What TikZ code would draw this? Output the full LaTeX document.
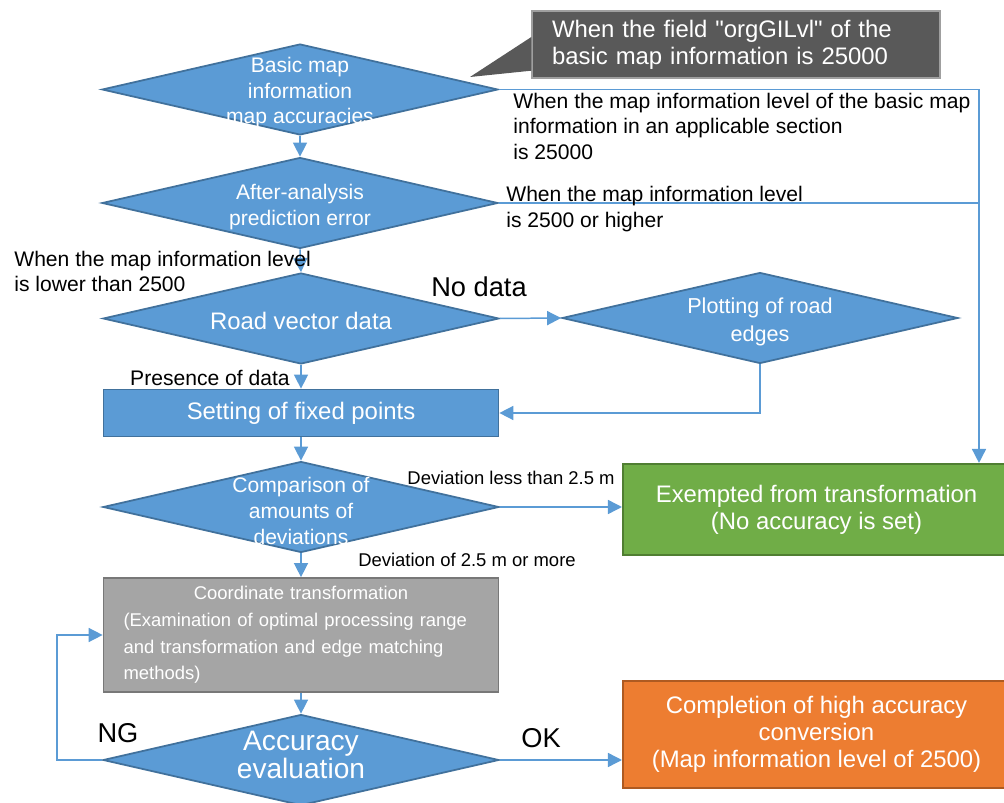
\documentclass[tikz,border=0pt]{standalone}
\usepackage{fontspec}
\setmainfont{Liberation Sans}
\usepackage{xcolor}
\usetikzlibrary{shapes.geometric,arrows.meta}
\definecolor{bluefill}{HTML}{5B9BD5}
\definecolor{blueline}{HTML}{41719C}
\definecolor{greenfill}{HTML}{70AD47}
\definecolor{greenline}{HTML}{507E32}
\definecolor{orangefill}{HTML}{ED7D31}
\definecolor{orangeline}{HTML}{AE5A21}
\definecolor{grayfill}{HTML}{A5A5A5}
\definecolor{grayline}{HTML}{787878}
\definecolor{notefill}{HTML}{595959}

\begin{document}
\begin{tikzpicture}[x=0.02cm, y=-0.02cm,
	decision/.style={diamond, draw=blueline, fill=bluefill, line width=1pt, inner sep=0pt, minimum width=7.92cm, minimum height=1.82cm},
	dtext/.style={text=white, align=center, inner sep=0pt},
	flow/.style={draw=bluefill, line width=0.85pt},
	arr/.style={flow, -{Triangle[length=8pt, width=8pt]}},
	note/.style={text=black, align=left, inner sep=0pt}]
	\useasboundingbox (0,0) rectangle (1004,803);
	\node[decision, label={[dtext, font=\fontsize{12}{14.5}\selectfont, yshift=-0.07cm]center:Basic map\\information\\map accuracies}] (basic) at (300,89.5) {};
	\node[decision, label={[dtext, font=\fontsize{12}{14.5}\selectfont, yshift=-0.08cm]center:After-analysis\\prediction error}] (after) at (300,203) {};
	\node[decision, label={[dtext, font=\fontsize{13.6}{16}\selectfont, yshift=-0.05cm]center:Road vector data}] (road) at (301,318.5) {};
	\node[decision, label={[dtext, font=\fontsize{12.3}{15.5}\selectfont, yshift=-0.08cm]center:Plotting of road\\edges}] (plot) at (760,318) {};
	\node[rectangle, draw=blueline, fill=bluefill, line width=1pt, minimum width=7.9cm, minimum height=0.94cm, text=white, font=\fontsize{13.6}{16}\selectfont] (fix) at (301,413) {Setting of fixed points};
	\node[decision, label={[dtext, font=\fontsize{12}{15}\selectfont, yshift=-0.08cm]center:Comparison of\\amounts of\\deviations}] (comp) at (301,507) {};
	\node[rectangle, draw=greenline, fill=greenfill, line width=1.2pt, minimum width=7.74cm, minimum height=1.82cm, text=white, align=center, font=\fontsize{13.6}{15.4}\selectfont] (exempt) at (816.5,509.5) {Exempted from transformation\\(No accuracy is set)};
	\node[rectangle, draw=grayline, fill=grayfill, line width=1pt, minimum width=7.9cm, minimum height=2.28cm, text=white, text width=7.1cm, align=left, font=\fontsize{10.5}{15.2}\selectfont] (coord) at (301,635) {{\centering Coordinate transformation\par}(Examination of optimal processing range\\and transformation and edge matching\\methods)};
	\node[decision, label={[dtext, font=\fontsize{16}{14.8}\selectfont, yshift=0.1cm]center:Accuracy\\evaluation}] (eval) at (301,760) {};
	\node[rectangle, draw=orangeline, fill=orangefill, line width=1.2pt, minimum width=7.74cm, minimum height=2.14cm, text=white, align=center, font=\fontsize{13.6}{15.2}\selectfont] (done) at (816.5,734.5) {Completion of high accuracy\\conversion\\(Map information level of 2500)};
	\node[rectangle, draw=gray!75, fill=notefill, line width=0.8pt, minimum width=8.16cm, minimum height=1.34cm, text=white, text width=7.36cm, align=left, font=\fontsize{13.6}{15.4}\selectfont] (field) at (736,44.5) {When the field \textquotedbl orgGILvl\textquotedbl{} of the\\basic map information is 25000};
	\fill[notefill] ([yshift=0.15cm]field.west) -- (470,77) -- ([yshift=0.16cm]field.south west) -- cycle;
	\coordinate (bend) at (979,88);
	\draw[arr] (basic.south) -- (after.north);
	\draw[arr] (after.south) -- (road.north);
	\draw[arr] (road.east) -- (plot.west);
	\draw[arr] (road.south) -- (fix.north);
	\draw[arr] (plot.south) |- (fix.east);
	\draw[arr] (fix.south) -- (comp.north);
	\draw[arr] (comp.east) -- (comp.east -| exempt.west);
	\draw[arr] (comp.south) -- (coord.north);
	\draw[arr] (coord.south) -- (eval.north);
	\draw[arr] (eval.east) -- (eval.east -| done.west);
	\draw[arr] (eval.west) -- ++(-45,0) |- (coord.west);
	\draw[arr] (basic.east) -- (basic.east -| bend) -- (bend |- exempt.north);
	\draw[flow] (after.east) -- (after.east -| bend);
	\node[note, font=\fontsize{12}{14.5}\selectfont, anchor=west] (lvlbasic) at (513,126) {When the map information level of the basic map\\information in an applicable section\\is 25000};
	\node[note, font=\fontsize{12}{14.5}\selectfont, anchor=west] (lvlhigh) at (506,209) {When the map information level\\is 2500 or higher};
	\node[note, font=\fontsize{12}{14.5}\selectfont, anchor=west] (lvllow) at (14,271.5) {When the map information level\\is lower than 2500};
	\node[note, font=\fontsize{15.5}{18}\selectfont] (nodata) at (479,287) {No data};
	\node[note, font=\fontsize{12}{14.5}\selectfont, anchor=east] (present) at (290,378) {Presence of data};
	\node[note, font=\fontsize{10.5}{12}\selectfont] (devless) at (511,478) {Deviation less than 2.5 m};
	\node[note, font=\fontsize{10.5}{12}\selectfont] (devmore) at (467,560) {Deviation of 2.5 m or more};
	\node[note, font=\fontsize{15.5}{18}\selectfont] (ng) at (118,733) {NG};
	\node[note, font=\fontsize{15.5}{18}\selectfont] (ok) at (541,738) {OK};
\end{tikzpicture}
\end{document}
